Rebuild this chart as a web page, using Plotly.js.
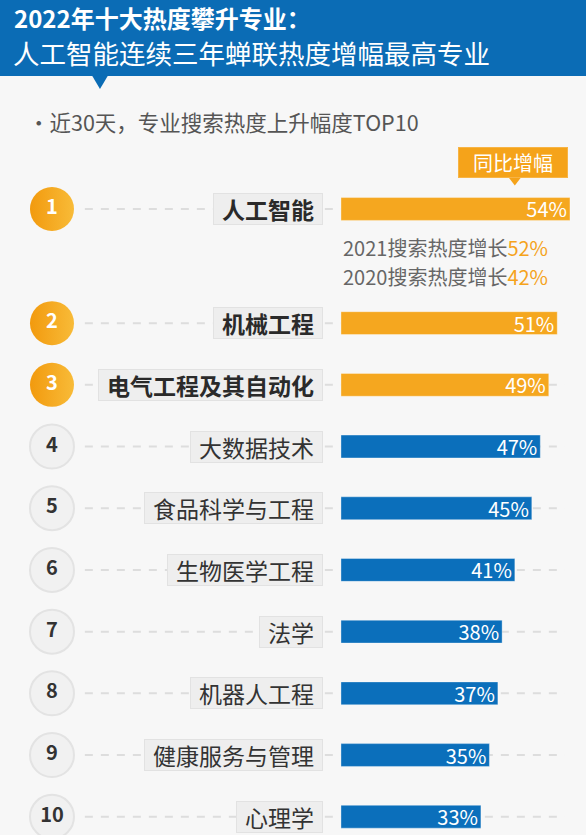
<!DOCTYPE html>
<html>
<head>
<meta charset="utf-8">
<script src="https://cdn.plot.ly/plotly-3.0.1.min.js"></script>
<style>
  html, body { margin: 0; padding: 0; background: #f7f7f7; }
  #chart { width: 586px; height: 835px; }
</style>
</head>
<body>
<div id="chart"></div>
<script>
// ---------------- data ----------------
const titleLine1 = '2022年十大热度攀升专业：';
const titleLine2 = '人工智能连续三年蝉联热度增幅最高专业';
const subtitle = '·近30天，专业搜索热度上升幅度TOP10';
const badgeText = '同比增幅';
const ranks = [1, 2, 3, 4, 5, 6, 7, 8, 9, 10];
const majors = ['人工智能', '机械工程', '电气工程及其自动化', '大数据技术', '食品科学与工程',
                '生物医学工程', '法学', '机器人工程', '健康服务与管理', '心理学'];
const growth = [54, 51, 49, 47, 45, 41, 38, 37, 35, 33];
const pastYears = ['2021', '2020'];
const pastGrowth = [52, 42];
const highlightCount = 3;

// ---------------- layout helpers ----------------
const FONT = '"Noto Sans CJK SC", "Noto Sans", sans-serif';
const ORANGE = '#f5a71f';
const BLUE = '#0b6fbb';
const HEADER_BLUE = '#0b6cb5';
const ROW_GAP = 0.85;                       // extra space below row 1
const rowPos = i => (i === 0 ? 0 : i + ROW_GAP);
const yPos = ranks.map((r, i) => rowPos(i));
const topRows = yPos.slice(0, highlightCount);
const restRows = yPos.slice(highlightCount);

// axis ranges (value 0 sits where bars start)
const X_RANGE = [-80.41, 57.78];
const Y_RANGE = [10.146, -3.387];
const X_CIRCLE = -68.15;
const X_LABEL_RIGHT = -4.24;
const X_DASH = [-60.4, 52.8];

const traces = [
  {
    type: 'bar', orientation: 'h',
    x: growth.slice(0, highlightCount), y: topRows, width: 0.37,
    marker: { color: ORANGE, line: { color: 'rgba(255,255,255,0.35)', width: 1 } },
    text: growth.slice(0, highlightCount).map(v => v + '%'),
    textposition: 'inside', insidetextanchor: 'end', constraintext: 'none', textangle: 0,
    textfont: { color: '#ffffff', size: 20, family: FONT },
    cliponaxis: false, showlegend: false
  },
  {
    type: 'bar', orientation: 'h',
    x: growth.slice(highlightCount), y: restRows, width: 0.37,
    marker: { color: BLUE, line: { color: 'rgba(255,255,255,0.35)', width: 1 } },
    text: growth.slice(highlightCount).map(v => v + '%'),
    textposition: 'inside', insidetextanchor: 'end', constraintext: 'none', textangle: 0,
    textfont: { color: '#ffffff', size: 20, family: FONT },
    cliponaxis: false, showlegend: false
  },
  {
    type: 'scatter', mode: 'markers+text',
    x: topRows.map(() => X_CIRCLE), y: topRows,
    text: ranks.slice(0, highlightCount).map(String),
    textposition: 'middle center',
    textfont: { color: '#ffffff', size: 20, family: FONT, weight: 700 },
    marker: { size: 44, color: '#f29a0e', gradient: { type: 'horizontal', color: '#f8bb38' },
              line: { width: 0 } },
    cliponaxis: false, showlegend: false
  },
  {
    type: 'scatter', mode: 'markers+text',
    x: restRows.map(() => X_CIRCLE), y: restRows,
    text: ranks.slice(highlightCount).map(String),
    textposition: 'middle center',
    textfont: { color: '#333333', size: 20, family: FONT, weight: 700 },
    marker: { size: 44, color: '#f1f1f1', line: { color: '#e3e3e3', width: 2 } },
    cliponaxis: false, showlegend: false
  },
  {
    // pointer of the badge
    type: 'scatter', mode: 'markers', x: [41.0], y: [-0.46],
    marker: { symbol: 'triangle-down', size: 10, color: '#f5a31a' },
    cliponaxis: false, showlegend: false
  }
];

// header band, pointer and dashed guide lines, under everything
const shapes = [
  { type: 'rect', xref: 'paper', yref: 'paper', x0: 0, x1: 1, y0: 1 - 76 / 835, y1: 1,
    fillcolor: HEADER_BLUE, line: { width: 0 }, layer: 'below' },
  { type: 'path', xref: 'paper', yref: 'paper',
    path: 'M 0.157 0.9095 L 0.1843 0.9095 L 0.1706 0.8934 Z',
    fillcolor: HEADER_BLUE, line: { width: 0 }, layer: 'below' }
];
yPos.forEach(y => shapes.push({
  type: 'line', xref: 'x', yref: 'y', x0: X_DASH[0], x1: X_DASH[1], y0: y, y1: y,
  line: { color: '#dddddd', width: 2, dash: '8px,8px' }, layer: 'below'
}));

const annotations = [];
// header texts
annotations.push({
  xref: 'paper', yref: 'paper', x: 12 / 586, y: 1 - 17.5 / 835, xanchor: 'left', yanchor: 'middle',
  text: '<b>' + titleLine1 + '</b>', showarrow: false,
  font: { family: FONT, size: 24, color: '#ffffff' }
});
annotations.push({
  xref: 'paper', yref: 'paper', x: 11 / 586, y: 1 - 52.5 / 835, xanchor: 'left', yanchor: 'middle',
  text: titleLine2, showarrow: false,
  font: { family: FONT, size: 26.5, color: '#ffffff' }
});
annotations.push({
  xref: 'paper', yref: 'paper', x: 26 / 586, y: 1 - 122 / 835, xanchor: 'left', yanchor: 'middle',
  text: subtitle, showarrow: false,
  font: { family: FONT, size: 21.5, color: '#555555' }
});
// badge
annotations.push({
  x: 40.6, y: -0.75, xanchor: 'center', yanchor: 'middle', showarrow: false,
  text: badgeText, width: 108, height: 29, borderpad: 0,
  bgcolor: '#f5a31a', bordercolor: '#f7b445', borderwidth: 1,
  font: { family: FONT, size: 20, color: '#ffffff' }
});
// major labels
majors.forEach((m, i) => {
  const bold = i < highlightCount;
  annotations.push({
    x: X_LABEL_RIGHT, y: yPos[i], xanchor: 'right', yanchor: 'middle', showarrow: false,
    text: bold ? '<b>' + m + '</b>' : m,
    width: m.length * 23 + 16, height: 30, borderpad: 0, align: 'center',
    bgcolor: '#eeeeee', bordercolor: '#e2e2e2', borderwidth: 1,
    font: { family: FONT, size: 23, color: bold ? '#2a2a2a' : '#333333' }
  });
});
// past-year lines under row 1
const pastY = [0.63, 1.1];
pastYears.forEach((yr, i) => {
  annotations.push({
    x: 0, y: pastY[i], xanchor: 'left', yanchor: 'middle', showarrow: false,
    text: yr + '搜索热度增长<span style="color:#f5a31c">' + pastGrowth[i] + '%</span>',
    font: { family: FONT, size: 20, color: '#666666' }
  });
});

const layout = {
  width: 586, height: 835,
  margin: { l: 0, r: 0, t: 0, b: 0 },
  paper_bgcolor: '#f7f7f7', plot_bgcolor: 'rgba(0,0,0,0)',
  showlegend: false, hovermode: false, barmode: 'overlay',
  xaxis: { range: X_RANGE, visible: false, fixedrange: true },
  yaxis: { range: Y_RANGE, visible: false, fixedrange: true },
  shapes: shapes,
  annotations: annotations,
  font: { family: FONT }
};

Plotly.newPlot('chart', traces, layout, { displayModeBar: false, staticPlot: true });
</script>
</body>
</html>
